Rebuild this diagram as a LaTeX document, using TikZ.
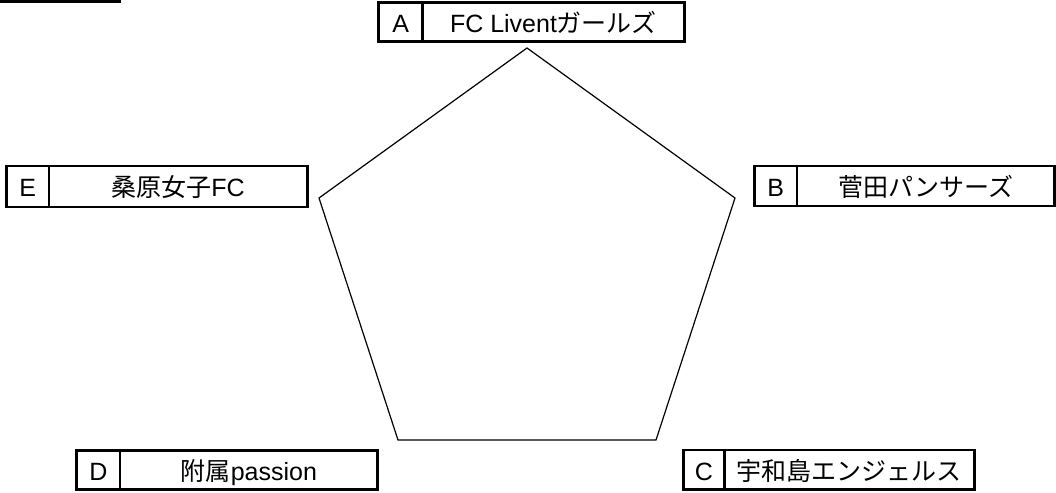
\documentclass[tikz,border=0pt]{standalone}
\usepackage{fontspec}
\setmainfont{Liberation Sans}
\newfontfamily\cjk{Noto Sans CJK JP}[Scale=1.0]
\usetikzlibrary{positioning}
\tikzset{
  boxline/.style={draw=black, line width=2.7pt},
  letterbox/.style={boxline, rectangle, anchor=north west, inner sep=0pt, text height=20.8pt, text depth=0pt, font=\fontsize{25}{29}\selectfont},
  namebox/.style={boxline, rectangle, anchor=north west, inner sep=0pt, text height=20.8pt, text depth=0pt, font=\fontsize{25}{29}\selectfont},
  penta/.style={draw=black, line width=1.2pt, line join=miter}
}
% #1 id, #2 x1, #3 xd, #4 x2, #5 y1, #6 y2, #7 letter, #8 text
\newcommand{\teambox}[8]{%
  \pgfmathsetmacro{\lw}{#3-#2}%
  \pgfmathsetmacro{\nw}{#4-#3}%
  \pgfmathsetmacro{\hh}{#6-#5}%
  \node[letterbox, minimum width=\lw pt, minimum height=\hh pt] (#1L) at (#2,#5) {#7};
  \node[namebox, minimum width=\nw pt, minimum height=\hh pt] (#1N) at (#3,#5) {#8};
}
\begin{document}
\begin{tikzpicture}[x=1pt,y=-1pt]
\useasboundingbox (0,0) rectangle (1056,492);
\fill[black] (0,0) rectangle (121,3);
\teambox{A}{377.3}{421.3}{683}{1.3}{40.3}{A}{FC Livent{\cjk ガールズ}}
\teambox{B}{753}{795.5}{1053}{164.7}{204.7}{B}{{\cjk 菅田パンサーズ}}
\teambox{C}{682}{723}{973}{448.7}{488}{C}{{\cjk 宇和島エンジェルス}}
\teambox{D}{75.3}{118.7}{376.3}{449}{488}{D}{{\cjk 附属}passion}
\teambox{E}{5}{47.5}{306}{164.7}{205.5}{E}{{\cjk 桑原女子}FC}
\coordinate (pA) at (527,48);
\coordinate (pB) at (735,198);
\coordinate (pC) at (656,440);
\coordinate (pD) at (398,440);
\coordinate (pE) at (319,198);
\draw[penta] (pA) -- (pB) -- (pC) -- (pD) -- (pE) -- cycle;
\end{tikzpicture}
\end{document}
